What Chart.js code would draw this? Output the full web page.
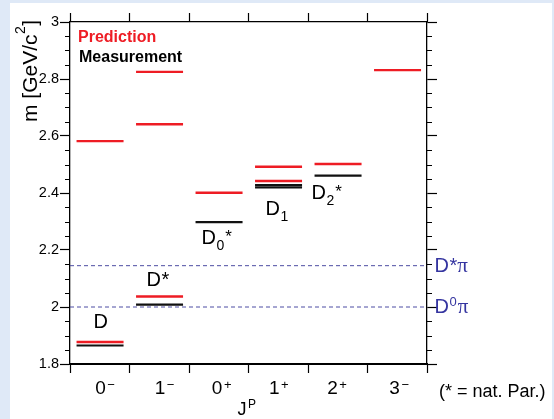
<!DOCTYPE html>
<html>
<head>
<meta charset="utf-8">
<script src="https://cdn.jsdelivr.net/npm/chart.js@4/dist/chart.umd.min.js"></script>
<style>
  html, body { margin: 0; padding: 0; background: #ffffff; }
  #wrap { width: 554px; height: 419px; position: relative; }
</style>
</head>
<body>
<div id="wrap"><canvas id="c"></canvas></div>
<script>
// J^P columns: spin and parity of each column
const spins    = ['0', '1', '0', '1', '2', '3'];
const parities = ['−', '−', '+', '+', '+', '−'];

// Masses in GeV/c^2, one list per J^P column
const predicted = [
  [1.877, 2.582],
  [2.037, 2.641, 2.825],
  [2.401],
  [2.442, 2.492],
  [2.502],
  [2.831]
];
const measured = [
  [1.865],
  [2.008],
  [2.298],
  [2.420, 2.428],
  [2.461],
  []
];

// Decay thresholds (dashed lines)
const thresholdMasses = [2.000, 2.145];
const thresholdNames  = [['D', '0', 'π'], ['D', '*', 'π']];

// State names: base letter, subscript, star
const stateNames = [
  ['D', '', ''],
  ['D', '', '*'],
  ['D', '0', '*'],
  ['D', '1', ''],
  ['D', '2', '*']
];

// Mass axis
const yMin = 1.8, yMax = 3.0, yMajor = 0.2, yMinor = 0.05;

// ---- presentation ----
const FONT = "'Liberation Sans', Arial, Helvetica, sans-serif";
const RED = '#ee1c24', BLACK = '#111111', BLUE_LINE = '#4d4da3', BLUE_TEXT = '#3535a0';
const SEG_START = 0.11, SEG_END = 0.90;
// where each state name sits, in (column, mass) coordinates
const stateAnchors = [[0.395, 1.927], [1.286, 2.075], [2.210, 2.220], [3.286, 2.323], [4.059, 2.379]];
// horizontal nudge (px) of each J^P label
const jpNudge = [0.8, 0.7, -1.6, -4, -5.3, -2.6];

function segments(levels) {
  const pts = [];
  levels.forEach((list, i) => list.forEach(m => {
    pts.push({ x: i + SEG_START, y: m }, { x: i + SEG_END, y: m }, { x: i + SEG_END, y: null });
  }));
  return pts;
}

const datasets = [
  { label: 'Measurement', data: segments(measured), borderColor: BLACK, borderWidth: 2.2 },
  { label: 'Prediction', data: segments(predicted), borderColor: RED, borderWidth: 2.4 }
];
thresholdMasses.forEach(t => datasets.push({
  label: 'threshold', data: [{ x: 0, y: t }, { x: spins.length, y: t }],
  borderColor: BLUE_LINE, borderWidth: 1, borderDash: [4, 3]
}));
datasets.forEach(d => Object.assign(d, { pointRadius: 0, spanGaps: false, fill: false, tension: 0 }));

function drawParts(ctx, x, y, parts) {
  let cx = x;
  parts.forEach(p => {
    ctx.font = (p.weight || '') + ' ' + p.size + 'px ' + (p.family || FONT);
    ctx.fillText(p.t, cx, y + (p.dy || 0));
    cx += ctx.measureText(p.t).width + (p.gap || 0);
  });
  return cx;
}

const decor = {
  id: 'decor',
  beforeDraw(chart) {
    const ctx = chart.ctx;
    ctx.save();
    ctx.fillStyle = '#dfe9f7';
    ctx.fillRect(0, 0, chart.width, chart.height);
    ctx.fillStyle = '#ffffff';
    ctx.fillRect(10, 3, chart.width - 12, chart.height - 3);
    ctx.restore();
  },
  afterDraw(chart) {
    const ctx = chart.ctx;
    const { x, y } = chart.scales;
    const a = chart.chartArea;
    ctx.save();

    // minor ticks on both mass axes
    ctx.strokeStyle = '#000';
    ctx.lineWidth = 1.2;
    const n = Math.round((yMax - yMin) / yMinor);
    const perMajor = Math.round(yMajor / yMinor);
    for (let i = 0; i <= n; i++) {
      if (i % perMajor === 0) continue;
      const py = Math.round(y.getPixelForValue(yMin + i * yMinor)) + 0.5;
      ctx.beginPath();
      ctx.moveTo(a.left - 5, py); ctx.lineTo(a.left, py);
      ctx.moveTo(a.right, py); ctx.lineTo(a.right + 5, py);
      ctx.stroke();
    }

    ctx.textBaseline = 'alphabetic';
    ctx.textAlign = 'left';

    // J^P labels under the columns
    ctx.fillStyle = '#000';
    spins.forEach((s, i) => {
      const cx = x.getPixelForValue(i + 0.5) + jpNudge[i];
      ctx.font = '19px ' + FONT;
      const w = ctx.measureText(s).width;
      drawParts(ctx, cx - w / 2, 394, [
        { t: s, size: 19, gap: 1.5 },
        { t: parities[i], size: 13, dy: -5.5 }
      ]);
    });

    // axis title J^P
    drawParts(ctx, 237.5, 415, [
      { t: 'J', size: 18, gap: 1.5 },
      { t: 'P', size: 12, dy: -7.5 }
    ]);

    // mass axis title
    ctx.save();
    ctx.translate(37, 122);
    ctx.rotate(-Math.PI / 2);
    drawParts(ctx, 0, 0, [
      { t: 'm [GeV/c', size: 21, gap: 0.5 },
      { t: '2', size: 14, dy: -12, gap: 0.5 },
      { t: ']', size: 21 }
    ]);
    ctx.restore();

    // legend text
    ctx.fillStyle = RED;
    drawParts(ctx, 78, 42, [{ t: 'Prediction', size: 16, weight: 'bold' }]);
    ctx.fillStyle = '#000';
    drawParts(ctx, 79, 62, [{ t: 'Measurement', size: 16, weight: 'bold' }]);

    // state names
    stateNames.forEach((nm, i) => {
      const px = x.getPixelForValue(stateAnchors[i][0]);
      const py = y.getPixelForValue(stateAnchors[i][1]);
      const parts = [{ t: nm[0], size: 20, gap: 0.5 }];
      if (nm[1]) parts.push({ t: nm[1], size: 14, dy: 6, gap: 1 });
      if (nm[2]) parts.push({ t: nm[2], size: nm[1] ? 17 : 20, dy: nm[1] ? -2 : 0 });
      drawParts(ctx, px, py, parts);
    });

    // threshold names right of the frame
    ctx.fillStyle = BLUE_TEXT;
    thresholdMasses.forEach((t, i) => {
      const py = y.getPixelForValue(t) + 6;
      const nm = thresholdNames[i];
      const parts = [{ t: nm[0], size: 20, gap: 0.5 }];
      if (nm[1] === '*') parts.push({ t: '*', size: 20 });
      else parts.push({ t: nm[1], size: 13, dy: -7, gap: 1 });
      parts.push({ t: nm[2], size: 21, family: "'Liberation Serif', 'Times New Roman', serif" });
      drawParts(ctx, a.right + 7.5, py, parts);
    });

    // note on parity
    ctx.fillStyle = '#000';
    drawParts(ctx, 439, 397, [{ t: '(* = nat. Par.)', size: 18 }]);

    ctx.restore();
  }
};

const axisGrid = (len, w) => ({ drawOnChartArea: false, drawTicks: true, tickLength: len, tickColor: '#000', tickWidth: w });

new Chart(document.getElementById('c'), {
  type: 'line',
  data: { datasets },
  options: {
    responsive: true,
    maintainAspectRatio: false,
    animation: false,
    devicePixelRatio: 1,
    layout: { padding: 0 },
    plugins: { legend: { display: false }, tooltip: { enabled: false } },
    scales: {
      x: {
        type: 'linear', position: 'bottom', min: 0, max: spins.length,
        ticks: { stepSize: 1, display: false },
        grid: axisGrid(9, 1.2),
        border: { display: true, color: '#000', width: 2 },
        afterFit: s => { s.height = 55; }
      },
      x2: {
        type: 'linear', position: 'top', min: 0, max: spins.length,
        ticks: { stepSize: 1, display: false },
        grid: axisGrid(9, 1.2),
        border: { display: true, color: '#000', width: 1.2 },
        afterFit: s => { s.height = 22; }
      },
      y: {
        type: 'linear', position: 'left', min: yMin, max: yMax,
        ticks: {
          stepSize: yMajor, color: '#000', padding: 1, font: { family: FONT, size: 14.5 },
          callback: v => String(Math.round(v * 10) / 10)
        },
        grid: axisGrid(10, 1.2),
        border: { display: true, color: '#000', width: 1.3 },
        afterFit: s => { s.width = 70; }
      },
      y2: {
        type: 'linear', position: 'right', min: yMin, max: yMax,
        ticks: { stepSize: yMajor, display: false },
        grid: axisGrid(10, 1.2),
        border: { display: true, color: '#000', width: 1.3 },
        afterFit: s => { s.width = 127; }
      }
    }
  },
  plugins: [decor]
});
</script>
</body>
</html>
